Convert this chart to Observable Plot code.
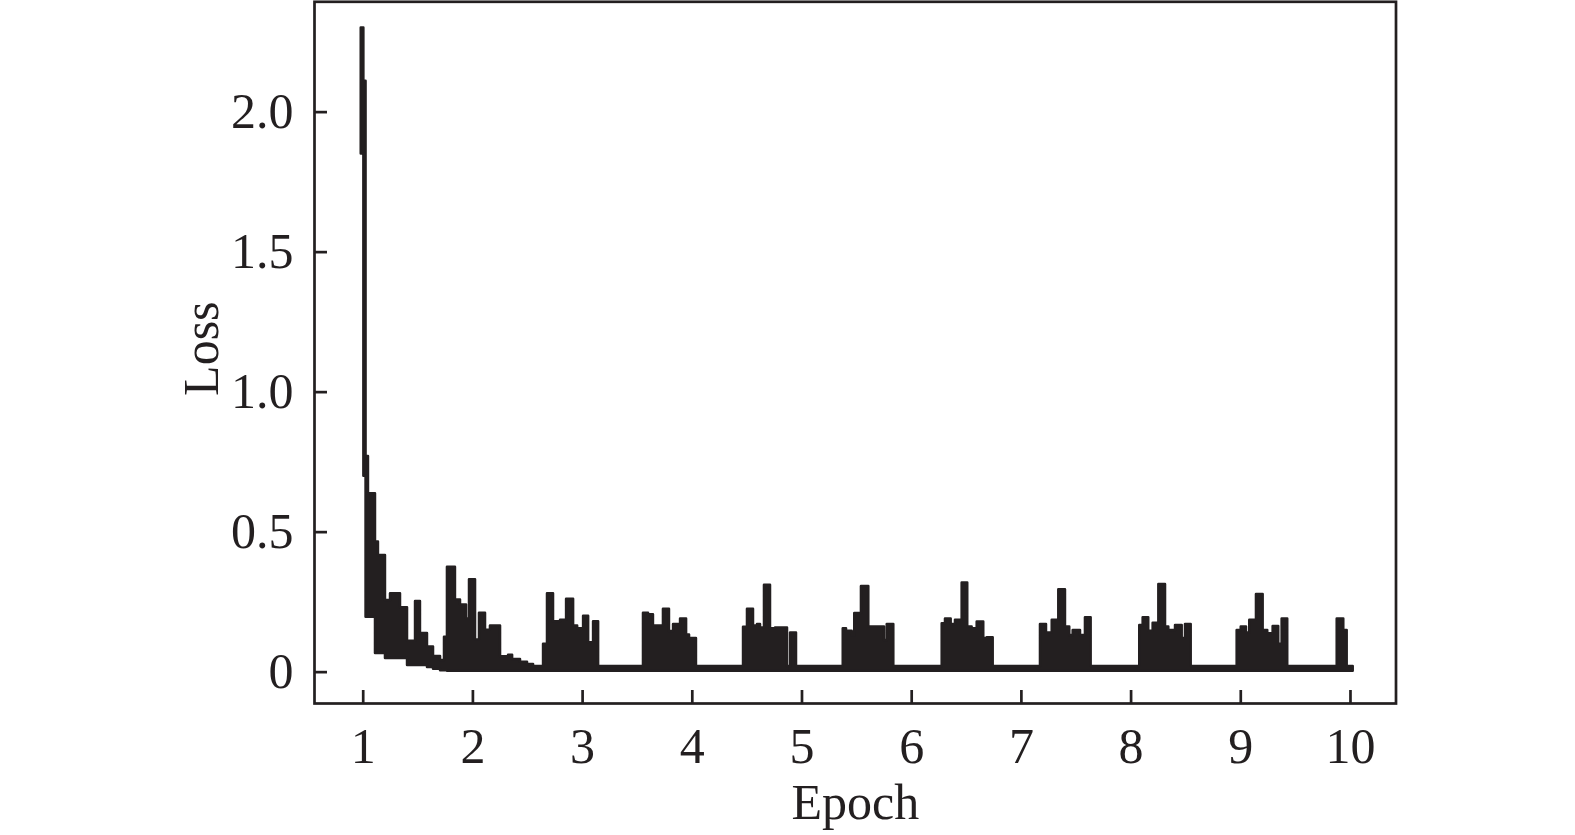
<!DOCTYPE html>
<html>
<head>
<meta charset="utf-8">
<script src="https://cdn.jsdelivr.net/npm/d3@7"></script>
<script src="https://cdn.jsdelivr.net/npm/@observablehq/plot@0.6"></script>
<style>
  html, body { margin: 0; padding: 0; background: #ffffff; }
</style>
</head>
<body>
<div id="chart"></div>
<script>
// Step segments of the training-loss trace (start epoch, upper / lower envelope of the loss)
const epochStart = [
  0.982, 1.006, 1.026, 1.048, 1.112, 1.139, 1.203, 1.249, 1.340, 1.404,
  1.477, 1.522, 1.586, 1.641, 1.705, 1.741, 1.768, 1.841, 1.887, 1.942,
  1.969, 2.024, 2.060, 2.115, 2.160, 2.252, 2.325, 2.362, 2.434, 2.498,
  2.553, 2.644, 2.680, 2.735, 2.799, 2.854, 2.918, 2.955, 3.009, 3.055,
  3.100, 3.146, 3.555, 3.601, 3.646, 3.737, 3.792, 3.829, 3.893, 3.948,
  3.975, 4.038, 4.467, 4.503, 4.558, 4.594, 4.622, 4.658, 4.713, 4.759,
  4.868, 4.896, 4.950, 5.376, 5.406, 5.458, 5.481, 5.542, 5.609, 5.752,
  5.777, 5.837, 6.278, 6.308, 6.360, 6.399, 6.460, 6.511, 6.551, 6.597,
  6.657, 6.688, 6.743, 7.174, 7.229, 7.281, 7.341, 7.402, 7.441, 7.472,
  7.539, 7.584, 7.636, 8.079, 8.110, 8.161, 8.201, 8.253, 8.314, 8.344,
  8.405, 8.466, 8.496, 8.548, 8.967, 9.004, 9.052, 9.082, 9.143, 9.204,
  9.246, 9.295, 9.346, 9.377, 9.428, 9.879, 9.939, 9.970, 10.025
];
const lossHigh = [
  2.30, 2.11, 0.77, 0.637, 0.465, 0.417, 0.256, 0.28, 0.23, 0.11,
  0.252, 0.138, 0.09, 0.056, 0.042, 0.125, 0.375, 0.258, 0.24, 0.19,
  0.33, 0.115, 0.21, 0.15, 0.165, 0.055, 0.06, 0.045, 0.035, 0.027,
  0.02, 0.10, 0.28, 0.18, 0.185, 0.26, 0.165, 0.155, 0.20, 0.105,
  0.18, 0.02, 0.21, 0.205, 0.165, 0.225, 0.145, 0.17, 0.19, 0.133,
  0.12, 0.02, 0.16, 0.225, 0.165, 0.17, 0.158, 0.31, 0.155, 0.158,
  0.02, 0.14, 0.02, 0.155, 0.146, 0.13, 0.209, 0.306, 0.161, 0.113,
  0.17, 0.02, 0.173, 0.19, 0.17, 0.185, 0.318, 0.161, 0.155, 0.179,
  0.12, 0.123, 0.02, 0.17, 0.14, 0.185, 0.294, 0.161, 0.131, 0.149,
  0.131, 0.194, 0.02, 0.167, 0.194, 0.146, 0.175, 0.313, 0.161, 0.149,
  0.167, 0.12, 0.17, 0.02, 0.149, 0.161, 0.14, 0.185, 0.277, 0.149,
  0.137, 0.163, 0.10, 0.19, 0.02, 0.19, 0.149, 0.02, 0.02
];
const lossLow = [
  1.85, 0.70, 0.196, 0.196, 0.067, 0.067, 0.049, 0.049, 0.049, 0.024,
  0.024, 0.024, 0.017, 0.01, 0.005, 0.005, 0.003, 0.003, 0.003, 0.003,
  0.003, 0.003, 0.003, 0.003, 0.003, 0.003, 0.003, 0.003, 0.003, 0.003,
  0.003, 0.003, 0.003, 0.003, 0.003, 0.003, 0.003, 0.003, 0.003, 0.003,
  0.003, 0.003, 0.003, 0.003, 0.003, 0.003, 0.003, 0.003, 0.003, 0.003,
  0.003, 0.003, 0.003, 0.003, 0.003, 0.003, 0.003, 0.003, 0.003, 0.003,
  0.003, 0.003, 0.003, 0.003, 0.003, 0.003, 0.003, 0.003, 0.003, 0.003,
  0.003, 0.003, 0.003, 0.003, 0.003, 0.003, 0.003, 0.003, 0.003, 0.003,
  0.003, 0.003, 0.003, 0.003, 0.003, 0.003, 0.003, 0.003, 0.003, 0.003,
  0.003, 0.003, 0.003, 0.003, 0.003, 0.003, 0.003, 0.003, 0.003, 0.003,
  0.003, 0.003, 0.003, 0.003, 0.003, 0.003, 0.003, 0.003, 0.003, 0.003,
  0.003, 0.003, 0.003, 0.003, 0.003, 0.003, 0.003, 0.003, 0.003
];
const xTicks = [1, 2, 3, 4, 5, 6, 7, 8, 9, 10];
const yTicks = [0, 0.5, 1.0, 1.5, 2.0];
const xLabel = "Epoch";
const yLabel = "Loss";

const data = epochStart.map((e, i) => ({ epoch: e, hi: lossHigh[i], lo: lossLow[i] }));
const ink = "#231f20";

const chart = Plot.plot({
  width: 1575,
  height: 835,
  marginLeft: 314,
  marginRight: 179.5,
  marginTop: 1.3,
  marginBottom: 132,
  style: {
    fontFamily: "'Liberation Serif', 'Times New Roman', serif",
    fontSize: "50px",
    color: ink,
    background: "#ffffff"
  },
  x: { domain: [0.556, 10.415] },
  y: { domain: [-0.112, 2.394] },
  marks: [
    Plot.areaY(data, { x: "epoch", y1: "lo", y2: "hi", curve: "step-after", fill: ink, stroke: ink, strokeWidth: 2.5 }),
    Plot.frame({ stroke: ink, strokeWidth: 2.7 }),
    Plot.axisX(xTicks, { anchor: "bottom", tickSize: -13, tickPadding: 37, strokeWidth: 2.7, label: null }),
    Plot.axisY(yTicks, { anchor: "left", tickSize: -13, tickPadding: 34, strokeWidth: 2.7, label: null,
      tickFormat: d => d === 0 ? "0" : d.toFixed(1) }),
    Plot.text([xLabel], { frameAnchor: "bottom", textAnchor: "middle", lineAnchor: "top", dy: 80, fontSize: 50, fill: ink }),
    Plot.text([yLabel], { frameAnchor: "left", textAnchor: "middle", rotate: -90, dx: -112.5, dy: -4, fontSize: 50, fill: ink })
  ]
});
document.getElementById("chart").appendChild(chart);
</script>
</body>
</html>
